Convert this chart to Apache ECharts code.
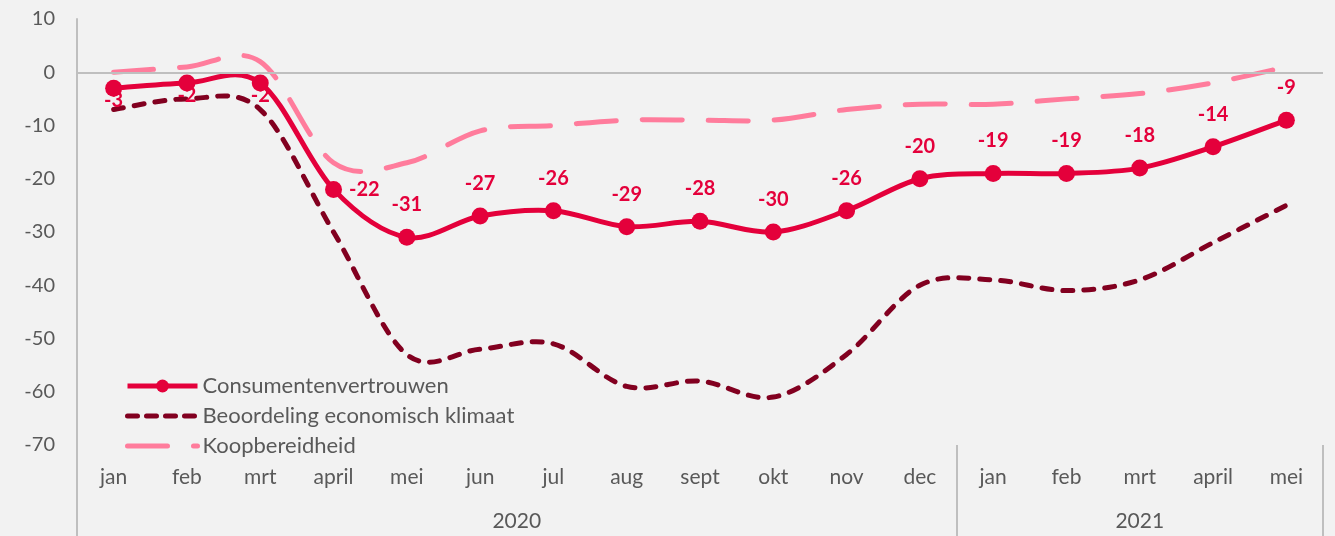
<!DOCTYPE html>
<html>
<head>
<meta charset="utf-8">
<script src="https://cdn.jsdelivr.net/npm/echarts@6/dist/echarts.min.js"></script>
<style>
  html, body { margin: 0; padding: 0; background: #f2f2f2; }
  #main { width: 1335px; height: 536px; }
</style>
</head>
<body>
<div id="main"></div>
<script>
// maanden en jaren
var months = ['jan', 'feb', 'mrt', 'april', 'mei', 'jun', 'jul', 'aug', 'sept', 'okt', 'nov', 'dec',
  'jan', 'feb', 'mrt', 'april', 'mei']
var years = ['2020', '2021']
var yearCounts = [12, 5]

// reeksen
var consument = [-3, -2, -2, -22, -31, -27, -26, -29, -28, -30, -26, -20, -19, -19, -18, -14, -9]
var klimaat = [-7, -5, -7, -30, -53, -52, -51, -59, -58, -61, -53, -40, -39, -41, -39, -32, -25]
var koop = [0, 1, 2, -17, -17, -11, -10, -9, -9, -9, -7, -6, -6, -5, -4, -2, 1]

var font = 'Lato, "Liberation Sans", sans-serif'
var grey = '#595959'
var red = '#e4003b'
var darkRed = '#820020'
var pink = '#ff7c9c'

// jaar-labels in het midden van hun groep, scheidingsstreepjes aan de randen
var yearCenters = [], yearEdges = [0], acc = 0
yearCounts.forEach(function (n) {
  yearCenters.push(acc + n / 2)
  acc += n
  yearEdges.push(acc)
})

// labels: eerste drie onder, april rechts, rest boven
var consumentData = consument.map(function (v, i) {
  var lbl = { position: 'top', distance: 14 }
  if (i < 3) lbl = { position: 'bottom', distance: -6 }
  if (i === 3) lbl = { position: 'right', distance: 7 }
  return { value: v, label: lbl }
})

// vloeiende lijn zoals in Excel (catmull-rom -> bezier), punten via de assen
function curve(values, color, width, dash, z) {
  return {
    type: 'custom',
    silent: true,
    z: z,
    data: values.map(function (v, i) { return [i, v] }),
    encode: { x: 0, y: 1 },
    renderItem: function (params, api) {
      if (params.dataIndex !== 0) return null
      var p = values.map(function (v, i) { return api.coord([i, v]) })
      var n = p.length
      var d = 'M' + p[0][0] + ' ' + p[0][1]
      for (var i = 0; i < n - 1; i++) {
        var a = p[Math.max(i - 1, 0)], b = p[i], c = p[i + 1], e = p[Math.min(i + 2, n - 1)]
        var c1x = b[0] + (c[0] - a[0]) / 6, c1y = b[1] + (c[1] - a[1]) / 6
        var c2x = c[0] - (e[0] - b[0]) / 6, c2y = c[1] - (e[1] - b[1]) / 6
        d += ' C' + c1x + ' ' + c1y + ' ' + c2x + ' ' + c2y + ' ' + c[0] + ' ' + c[1]
      }
      return {
        type: 'path',
        shape: { pathData: d },
        style: { fill: null, stroke: color, lineWidth: width, lineDash: dash, lineCap: 'round' }
      }
    }
  }
}

var chart = echarts.init(document.getElementById('main'))
var option = {
  backgroundColor: '#f2f2f2',
  animation: false,
  textStyle: { fontFamily: font },
  grid: { left: 77, right: 12, top: 19, bottom: 91 },
  legend: {
    orient: 'vertical',
    left: 120,
    top: 369,
    itemWidth: 70,
    itemHeight: 16,
    itemGap: 6,
    lineStyle: { opacity: 1, width: 5 },
    textStyle: { color: grey, fontSize: 22, lineHeight: 24, fontFamily: font },
    data: [
      { name: 'Consumentenvertrouwen' },
      { name: 'Beoordeling economisch klimaat', itemStyle: { opacity: 0 } },
      { name: 'Koopbereidheid', itemStyle: { opacity: 0 } }
    ]
  },
  xAxis: [
    {
      type: 'category',
      data: months,
      position: 'bottom',
      axisLine: { show: false, onZero: false },
      axisTick: { show: false },
      axisLabel: { color: grey, fontSize: 21, margin: 22, interval: 0 }
    },
    {
      type: 'value',
      min: 0,
      max: months.length,
      position: 'bottom',
      offset: 91,
      axisLine: { show: false, onZero: false },
      splitLine: { show: false },
      axisTick: {
        show: true, inside: true, length: 91, customValues: yearEdges,
        lineStyle: { color: '#bfbfbf', width: 2 }
      },
      axisLabel: {
        inside: true, margin: 4, color: grey, fontSize: 21,
        customValues: yearCenters,
        formatter: function (v) { return years[yearCenters.indexOf(v)] }
      }
    }
  ],
  yAxis: {
    type: 'value',
    min: -70,
    max: 10,
    interval: 10,
    axisLine: { show: true, lineStyle: { color: '#bfbfbf', width: 2 } },
    axisTick: { show: false },
    splitLine: { show: false },
    axisLabel: { color: grey, fontSize: 20, margin: 22 }
  },
  series: [
    {
      name: 'Koopbereidheid',
      type: 'line',
      data: koop,
      symbol: 'none',
      lineStyle: { color: pink, width: 5, type: [40, 26], cap: 'round', opacity: 0 },
      itemStyle: { color: pink },
      markLine: {
        silent: true,
        symbol: 'none',
        label: { show: false },
        lineStyle: { color: '#bfbfbf', width: 2, type: 'solid', opacity: 1 },
        data: [{ yAxis: 0 }]
      },
      z: 1
    },
    {
      name: 'Beoordeling economisch klimaat',
      type: 'line',
      data: klimaat,
      symbol: 'none',
      lineStyle: { color: darkRed, width: 5, type: [10, 9], cap: 'round', opacity: 0 },
      itemStyle: { color: darkRed },
      z: 1
    },
    {
      name: 'Consumentenvertrouwen',
      type: 'line',
      data: consumentData,
      symbol: 'circle',
      symbolSize: 17,
      lineStyle: { color: red, width: 5, opacity: 0 },
      itemStyle: { color: red },
      label: {
        show: true,
        color: red,
        fontSize: 20,
        fontWeight: 'bold',
        fontFamily: font
      },
      z: 5
    },
    curve(koop, pink, 5, [40, 26], 2),
    curve(klimaat, darkRed, 5, [10, 11], 3),
    curve(consument, red, 5, null, 4)
  ]
}
chart.setOption(option)
</script>
</body>
</html>
